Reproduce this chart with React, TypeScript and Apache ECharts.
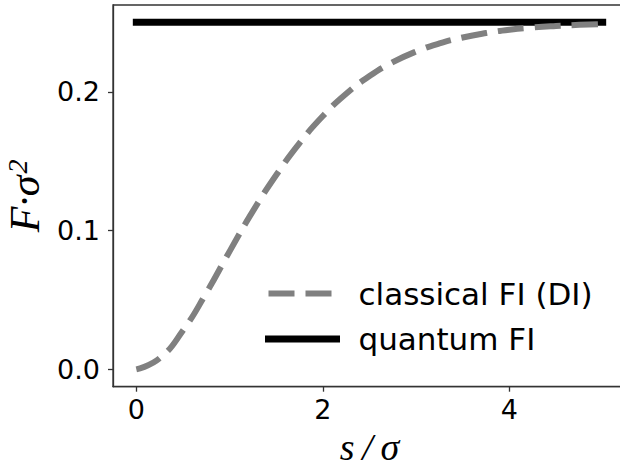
import React, { useEffect, useRef } from "react";
import * as echarts from "echarts";

const sValues = [0, 0.25, 0.5, 0.75, 1.0, 1.25, 1.5, 1.75, 2.0, 2.25, 2.5, 2.75, 3.0, 3.25, 3.5, 3.75, 4.0, 4.25, 4.5, 4.75, 5.0];
const classicalFI = [0, 0.008, 0.028, 0.055, 0.085, 0.114, 0.14, 0.163, 0.1825, 0.1985, 0.2113, 0.2213, 0.229, 0.2348, 0.2391, 0.2423, 0.2447, 0.2463, 0.2474, 0.2482, 0.2488];
const quantumS = [0, 5];
const quantumFI = [0.25, 0.25];
const xTicks = [0, 2, 4];
const yTicks = [0, 0.1, 0.2];
const seriesNames = ["classical FI (DI)", "quantum FI"];

export default function App() {
  const ref = useRef<HTMLDivElement>(null);
  useEffect(() => {
    if (!ref.current) return;
    const chart = echarts.init(ref.current, undefined, { renderer: "svg" });
    const tickFont = { fontFamily: "DejaVu Sans", fontSize: 27, color: "#000" };
    chart.setOption({
      animation: false,
      backgroundColor: "#fff",
      grid: {
        left: 113,
        top: 5,
        width: 513,
        height: 381.7,
        containLabel: false,
        outerBoundsMode: "none",
        show: true,
        borderColor: "#333",
        borderWidth: 1.3,
        backgroundColor: "transparent",
      },
      legend: {
        orient: "vertical",
        left: 265,
        top: 278,
        padding: 0,
        itemWidth: 68,
        itemHeight: 20,
        itemGap: 14.5,
        itemStyle: { opacity: 0 },
        textStyle: { fontFamily: "DejaVu Sans", fontSize: 31, color: "#000", padding: [0, 0, 0, 17] },
        data: [
          { name: seriesNames[0], itemStyle: { opacity: 0 }, lineStyle: { width: 6, type: [26, 11], color: "#808080", cap: "butt" } },
          { name: seriesNames[1], itemStyle: { opacity: 0 }, lineStyle: { width: 7, type: "solid", color: "#000" } },
        ],
      },
      xAxis: {
        type: "value",
        min: -0.25,
        max: 5.25,
        name: "s\u2009/\u2009σ",
        nameLocation: "middle",
        nameGap: 40,
        nameTextStyle: { fontFamily: "Liberation Serif", fontStyle: "italic", fontSize: 38, lineHeight: 38, color: "#000" },
        axisLine: { onZero: false, lineStyle: { color: "#333", width: 1.3 } },
        axisTick: { show: true, length: 5, lineStyle: { color: "#333", width: 1.3 }, customValues: xTicks },
        axisLabel: { ...tickFont, margin: 9, customValues: xTicks, formatter: (v: number) => String(v) },
        splitLine: { show: false },
      },
      yAxis: {
        type: "value",
        min: -0.0125,
        max: 0.2625,
        name: "{m|F·σ}{s|2}",
        nameLocation: "middle",
        nameGap: 66,
        nameTextStyle: {
          fontFamily: "Liberation Serif",
          fontStyle: "italic",
          fontSize: 42,
          color: "#000",
          rich: {
            m: { fontFamily: "Liberation Serif", fontStyle: "italic", fontSize: 42, color: "#000" },
            s: { fontFamily: "Liberation Serif", fontStyle: "italic", fontSize: 28, color: "#000", verticalAlign: "top", padding: [0, 0, 15, 2] },
          },
        },
        axisLine: { onZero: false, lineStyle: { color: "#333", width: 1.3 } },
        axisTick: { show: true, length: 5, lineStyle: { color: "#333", width: 1.3 }, customValues: yTicks },
        axisLabel: { ...tickFont, margin: 13, customValues: yTicks, formatter: (v: number) => v.toFixed(1) },
        splitLine: { show: false },
      },
      series: [
        {
          name: seriesNames[1],
          type: "line",
          data: quantumS.map((s, i) => [s, quantumFI[i]]),
          showSymbol: false,
          symbol: "none",
          z: 2,
          lineStyle: { color: "#000", width: 7, cap: "square" },
          itemStyle: { color: "#000" },
        },
        {
          name: seriesNames[0],
          type: "line",
          data: sValues.map((s, i) => [s, classicalFI[i]]),
          showSymbol: false,
          symbol: "none",
          smooth: 0.5,
          z: 3,
          lineStyle: { color: "#808080", width: 6, type: [26, 11], cap: "butt" },
          itemStyle: { color: "#808080" },
        },
      ],
    });
    return () => chart.dispose();
  }, []);
  return <div ref={ref} style={{ position: "fixed", left: 0, top: 0, width: 620, height: 468 }} />;
}
